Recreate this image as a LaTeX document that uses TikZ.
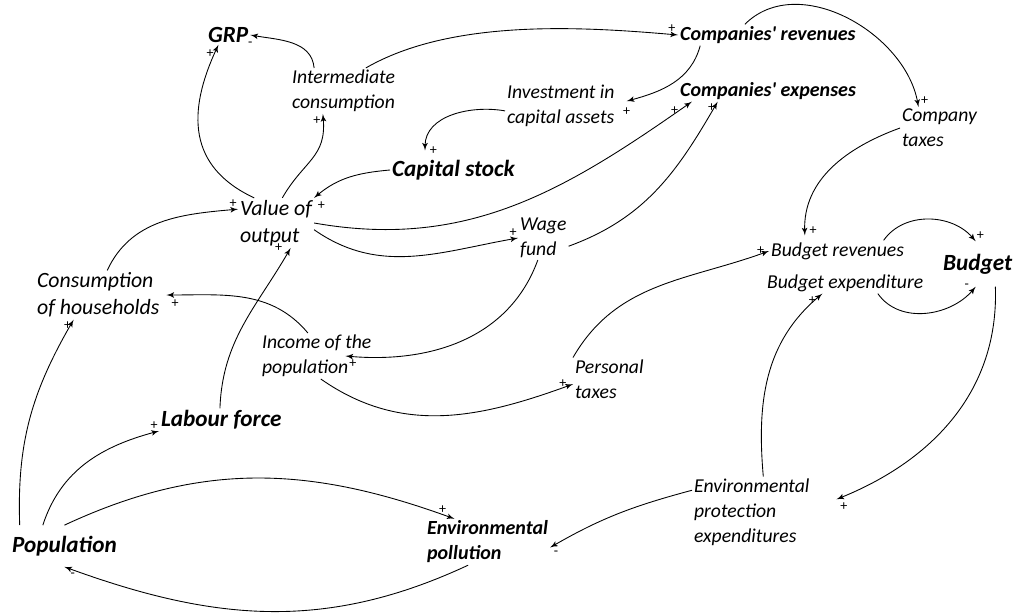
\documentclass[tikz,border=0pt]{standalone}
\usepackage{fontspec}
\setmainfont{Carlito}
\usepackage{tikz}
\usetikzlibrary{arrows,positioning}

\begin{document}
\begin{tikzpicture}[x=0.02cm,y=0.02cm]

\tikzset{auxvar/.style = {anchor=west,align=left,inner sep=1pt,font=\fontsize{11.2}{14.2}\selectfont\itshape}}
\tikzset{bigauxvar/.style = {auxvar,font=\fontsize{12.4}{15.6}\selectfont\itshape}}
\tikzset{stockvar/.style = {auxvar,font=\fontsize{13.2}{16}\selectfont\bfseries\itshape}}
\tikzset{smallstockvar/.style = {auxvar,font=\fontsize{11.4}{14.2}\selectfont\bfseries\itshape}}
\tikzset{edge/.style = {->,> = latex',line width=0.5pt}}
\tikzset{polarity/.style = {font=\fontsize{8}{9}\selectfont,inner sep=0.5pt}}

\useasboundingbox (0,0) rectangle (1013,613);

% variables
\node[stockvar] (grp) at (206,578) {GRP};
\node[auxvar] (ic) at (290,522) {Intermediate\\consumption};
\node[smallstockvar] (crev) at (678,578) {Companies\textquotesingle\ revenues};
\node[smallstockvar] (cexp) at (678,522) {Companies\textquotesingle\ expenses};
\node[auxvar] (inv) at (505,507) {Investment in\\capital assets};
\node[auxvar] (ctax) at (900,485) {Company\\taxes};
\node[stockvar] (cap) at (390,443) {Capital stock};
\node[bigauxvar] (vo) at (238,390) {Value of\\output};
\node[auxvar] (wage) at (518,375) {Wage\\fund};
\node[auxvar] (brev) at (769,362) {Budget revenues};
\node[stockvar,inner ysep=7pt] (budget) at (941,349) {Budget};
\node[auxvar] (bexp) at (765,330) {Budget expenditure};
\node[bigauxvar] (hh) at (35,318) {Consumption\\of households};
\node[auxvar] (inc) at (260,257) {Income of the\\population};
\node[auxvar] (ptax) at (573,234) {Personal\\taxes};
\node[stockvar] (lab) at (159,193) {Labour force};
\node[auxvar] (epe) at (692,101) {Environmental\\protection\\expenditures};
\node[smallstockvar] (pol) at (425,71) {Environmental\\pollution};
\node[stockvar,inner ysep=6pt] (pop) at (10,67) {Population};

%links
\draw[edge] (ic.142) to[out=95,in=-10] node[polarity,pos=1,below=3pt]{-} (grp.east);
\draw[edge] (vo.131) to[out=155,in=245,looseness=1.2] node[polarity,pos=1,below left=2pt and 2pt]{+} (grp.225);
\draw[edge] (vo.76) to[out=60,in=-85,looseness=1.2] node[polarity,pos=1,below left=1pt]{+} (ic.228);
\draw[edge] (ic.46) to[out=30,in=175,looseness=0.8] node[polarity,pos=1,above left=1pt]{+} (crev.west);
\draw[edge] (crev.189) to[out=-105,in=15] node[polarity,pos=1,below=3pt]{+} ([xshift=2mm]inv.5);
\draw[edge] (inv.185) to[out=170,in=90] node[polarity,pos=1,right=2pt]{+} ([yshift=1.5mm]cap.157);
\draw[edge] (cap.west) to[out=185,in=40] node[polarity,pos=1,below right=2pt]{+} (vo.north east);
\draw[edge] (vo.east) to[out=-10,in=215] node[polarity,pos=1,below left=2pt and 7pt]{+} (cexp.188);
\draw[edge] (vo.-10) to[out=-35,in=190] node[polarity,pos=1,above left=0pt]{+} (wage.west);
\draw[edge] (wage.-18) to[out=20,in=240] node[polarity,pos=1,below left=1pt]{+} (cexp.192);
\draw[edge] (wage.256) to[out=-110,in=-5] node[polarity,pos=1,below right=2pt]{+} ([xshift=-5.6mm]inc.east);
\draw[edge] (inc.111) to[out=130,in=0] node[polarity,pos=1,below right=3pt]{+} ([xshift=1mm]hh.east);
\draw[edge] (lab.97) to[out=88,in=240] node[polarity,pos=1,left=4pt]{+} (vo.-60);
\draw[edge] (hh.70) to[out=65,in=185] node[polarity,pos=1,above left=0pt]{+} (vo.160);
\draw[edge] (inc.-80) to[out=-35,in=200] node[polarity,pos=1,left=3pt]{+} (ptax.188);
\draw[edge] (ptax.north west) to[out=60,in=200] node[polarity,pos=1,left=2pt]{+} (brev.west);
\draw[edge] (crev.155) to[out=45,in=100] node[polarity,pos=1,above right=1pt]{+} (ctax.135);
\draw[edge] (ctax.west) to[out=200,in=92] node[polarity,pos=1,above right=0pt and 2pt]{+} ([yshift=1mm]brev.162);
\draw[edge] (brev.13) to[out=55,in=130] node[polarity,pos=1,above right=0pt]{+} (budget.95);
\draw[edge] (bexp.-18) to[out=-55,in=-130] node[polarity,pos=1,left=3pt]{-} (budget.-95);
\draw[edge] (budget.-52) to[out=-88,in=22] node[polarity,pos=1,below right=2pt]{+} ([xshift=5mm]epe.12);
\draw[edge] (epe.72) to[out=95,in=220] node[polarity,pos=1,below left=1pt and 3pt]{+} (bexp.205);
\draw[edge] (epe.160) to[out=195,in=30] node[polarity,pos=1,below right=2pt]{-} (pol.-5);
\draw[edge] (pop.90) to[out=25,in=160] node[polarity,pos=1,above left=2pt and 4pt]{+} (pol.145);
\draw[edge] (pol.-130) to[out=205,in=-20] node[polarity,pos=1,below right=4pt]{-} (pop.south);
\draw[edge] (pop.136) to[out=72,in=195] node[polarity,pos=1,above left=0pt]{+} (lab.190);
\draw[edge] (pop.155) to[out=92,in=240] node[polarity,pos=1,below left=1pt]{+} (hh.225);
\end{tikzpicture}
\end{document}
